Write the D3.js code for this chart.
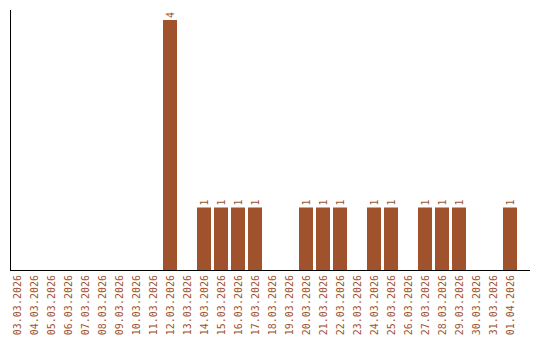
<!DOCTYPE html>
<html>
<head>
<meta charset="utf-8">
<script src="https://cdn.jsdelivr.net/npm/d3@7"></script>
<style>
  body { margin: 0; background: #fff; }
  svg text { font-family: "DejaVu Sans Mono", monospace; font-size: 10px; fill: #a0522d; }
</style>
</head>
<body>
<svg class="chart"></svg>
<script>
// dates shown on the x axis
var dates = ["03.03.2026", "04.03.2026", "05.03.2026", "06.03.2026", "07.03.2026",
    "08.03.2026", "09.03.2026", "10.03.2026", "11.03.2026", "12.03.2026",
    "13.03.2026", "14.03.2026", "15.03.2026", "16.03.2026", "17.03.2026",
    "18.03.2026", "19.03.2026", "20.03.2026", "21.03.2026", "22.03.2026",
    "23.03.2026", "24.03.2026", "25.03.2026", "26.03.2026", "27.03.2026",
    "28.03.2026", "29.03.2026", "30.03.2026", "31.03.2026", "01.04.2026"];
var counts = [0, 0, 0, 0, 0, 0, 0, 0, 0, 4,
    0, 1, 1, 1, 1, 0, 0, 1, 1, 1,
    0, 1, 1, 0, 1, 1, 1, 0, 0, 1];

(function show() {
    'use strict';

    var width = 540, height = 340;
    var data = dates.map(function(d, i) { return {date: d, count: counts[i]}; });

    var chart = d3.select(".chart")
        .attr("width", width)
        .attr("height", height);

    var scaleX = d3.scaleBand()
        .domain(dates)
        .range([10, 517])
        .paddingInner(3 / 17)
        .paddingOuter(0)
        .align(0);

    var scaleY = d3.scaleLinear().domain([0, 4]).range([270, 20]);

    // bars
    var bars = data.filter(function(d) { return d.count > 0; });
    chart.append("g").selectAll("rect")
        .data(bars)
        .enter().append("rect")
        .attr("x", function(d) { return scaleX(d.date); })
        .attr("y", function(d) { return scaleY(d.count); })
        .attr("width", scaleX.bandwidth())
        .attr("height", function(d) { return scaleY(0) - scaleY(d.count); })
        .attr("fill", "#a0522d");

    // value labels, rotated above bars
    chart.append("g").selectAll("text")
        .data(bars)
        .enter().append("text")
        .attr("transform", function(d) {
            return "translate(" + (scaleX(d.date) + scaleX.bandwidth() / 2 + 3.5) + ","
                + (scaleY(d.count) - 2) + ") rotate(-90)";
        })
        .text(function(d) { return d.count; });

    // bottom axis
    var bottomAxis = d3.axisBottom(scaleX).tickSize(0).tickPadding(0);
    var bottomAxisChart = chart.append("g")
        .attr("transform", "translate(0," + scaleY(0) + ")")
        .call(bottomAxis);
    bottomAxisChart.select(".domain")
        .attr("d", "M10,0.5H530")
        .attr("stroke", "#000");
    bottomAxisChart.selectAll(".tick text")
        .attr("font-family", null)
        .attr("font-size", null)
        .attr("fill", null)
        .attr("y", 0)
        .attr("dy", null)
        .attr("text-anchor", "end")
        .attr("transform", "translate(3.5,5) rotate(-90)");

    // left axis line
    chart.append("line")
        .attr("x1", 10.5).attr("x2", 10.5)
        .attr("y1", 10).attr("y2", scaleY(0))
        .attr("stroke", "#000");
})();
</script>
</body>
</html>
